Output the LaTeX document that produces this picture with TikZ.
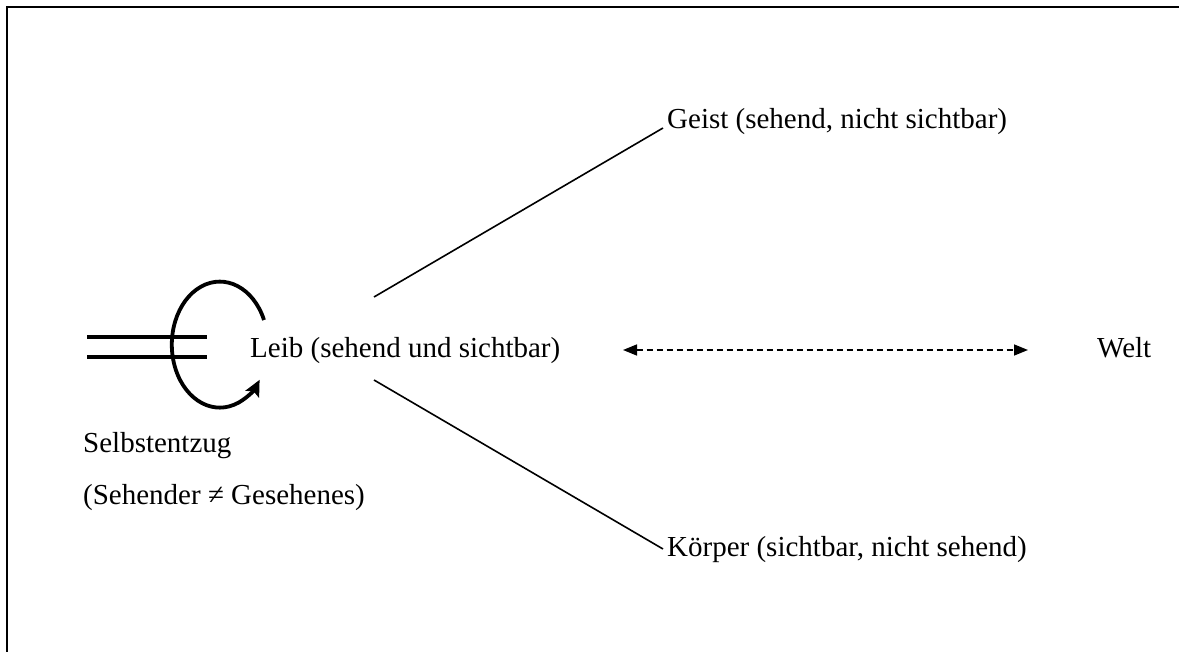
\documentclass[tikz,border=0pt]{standalone}
\usepackage{fontspec}
\setmainfont{Liberation Serif}
\usetikzlibrary{arrows.meta}
\begin{document}
\begin{tikzpicture}[x=1pt,y=-1pt,
  label/.style={font=\fontsize{29}{34}\selectfont, inner sep=0pt, anchor=base west},
  branch/.style={line width=1.6pt},
  frameline/.style={line width=2pt},
  loopline/.style={line width=3.8pt},
  relation/.style={line width=1.5pt, dash pattern=on 6pt off 4pt,
    {Triangle[length=14pt,width=11pt]}-{Triangle[length=14pt,width=11pt]}}]
  \useasboundingbox (0,0) rectangle (1179,652);
  % open frame: top and left edges
  \draw[frameline] (1179,7) -- (7,7) -- (7,652);

  % labels
  \node[label] (leib) at (250,358) {Leib (sehend und sichtbar)};
  \node[label] (geist) at (667,129) {Geist (sehend, nicht sichtbar)};
  \node[label] (koerper) at (667,556) {Körper (sichtbar, nicht sehend)};
  \node[label] (welt) at (1097,358) {Welt};
  \node[label] (selbst) at (83,453) {Selbstentzug};
  \node[label] (ungleich) at (83,504) {(Sehender ≠ Gesehenes)};

  % branch lines from the Leib
  \coordinate (gA) at (374,297);
  \coordinate (gB) at (663,128);
  \coordinate (kA) at (374,380);
  \coordinate (kB) at (663,549);
  \draw[branch] (gA) -- (gB);
  \draw[branch] (kA) -- (kB);

  % two-way relation between Leib and Welt
  \coordinate (rA) at (623,350);
  \coordinate (rB) at (1028,350);
  \draw[relation] (rA) -- (rB);

  % self-withdrawal symbol: double bar with a returning loop
  \coordinate (bA1) at (87,337);
  \coordinate (bB1) at (207,337);
  \coordinate (bA2) at (87,357);
  \coordinate (bB2) at (207,357);
  \draw[loopline] (bA1) -- (bB1);
  \draw[loopline] (bA2) -- (bB2);
  \coordinate (loopstart) at (264,320);
  \draw[loopline, -{Stealth[length=16pt,width=15pt,inset=3pt]}] (loopstart)
    arc[start angle=-23, end angle=-326, x radius=48, y radius=63];
\end{tikzpicture}
\end{document}
